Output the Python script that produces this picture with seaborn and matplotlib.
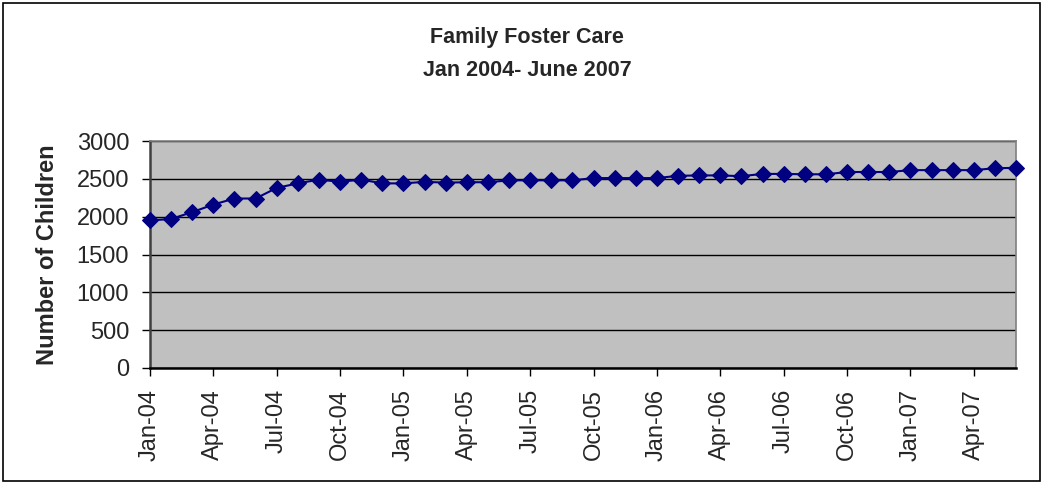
import matplotlib
matplotlib.use("Agg")
import matplotlib.pyplot as plt
import seaborn as sns
import pandas as pd
from matplotlib.patches import Rectangle

# ---- data ----
month_index = list(range(42))  # Jan 2004 .. Jun 2007
children = [1950, 1970, 2060, 2160, 2240, 2240, 2380, 2440, 2490, 2460,
            2490, 2440, 2440, 2460, 2450, 2455, 2455, 2480, 2480, 2480,
            2480, 2510, 2510, 2510, 2510, 2540, 2545, 2545, 2535, 2565,
            2565, 2560, 2560, 2590, 2590, 2590, 2615, 2615, 2615, 2615,
            2640, 2645]
tick_positions = list(range(0, 42, 3))
tick_labels = ["Jan-04", "Apr-04", "Jul-04", "Oct-04", "Jan-05", "Apr-05",
               "Jul-05", "Oct-05", "Jan-06", "Apr-06", "Jul-06", "Oct-06",
               "Jan-07", "Apr-07"]
y_ticks = [0, 500, 1000, 1500, 2000, 2500, 3000]

sns.set_theme(style="white")
plt.rcParams['font.family'] = ['Liberation Sans', 'DejaVu Sans']

W, H = 1043, 484
fig = plt.figure(figsize=(W / 100, H / 100), dpi=100)
fig.patch.set_facecolor("white")
ax = fig.add_axes([150 / W, 1 - 368 / H, (1016 - 150) / W, (368 - 141) / H])
ax.set_facecolor("#C0C0C0")

df = pd.DataFrame({"month": month_index, "children": children})
sns.lineplot(data=df, x="month", y="children", ax=ax, color="#000080",
             marker="D", markersize=8.5, linewidth=1.5,
             markeredgecolor="#000080", clip_on=False, zorder=5)

ax.set_xlim(0, 41)
ax.set_ylim(0, 3000)
ax.set_yticks(y_ticks)
ax.set_yticklabels([str(v) for v in y_ticks], fontsize=17)
ax.set_xticks(tick_positions)
ax.set_xticklabels(tick_labels, rotation=90, fontsize=17)
ax.tick_params(axis="both", direction="out", length=6, width=1,
               color="black", left=True, bottom=True)
ax.tick_params(axis="y", pad=9)
ax.tick_params(axis="x", pad=9)
ax.yaxis.grid(True, color="black", linewidth=1)
ax.xaxis.grid(False)
ax.set_axisbelow(True)

for side in ["top", "right"]:
    ax.spines[side].set_color("#808080")
    ax.spines[side].set_linewidth(1.2)
ax.spines["left"].set_color("#404040")
ax.spines["left"].set_linewidth(1.8)
ax.spines["bottom"].set_color("black")
ax.spines["bottom"].set_linewidth(1.8)

ax.set_xlabel("")
ax.set_ylabel("Number of Children", fontsize=17, fontweight="bold")
ax.yaxis.set_label_coords((59 - 150) / (1016 - 150), 0.5)

fig.text(527 / W, 1 - 38 / H, "Family Foster Care", ha="center", va="center",
         fontsize=15.5, fontweight="bold")
fig.text(527 / W, 1 - 70 / H, "Jan 2004- June 2007", ha="center", va="center",
         fontsize=15.5, fontweight="bold")

fig.patches.append(Rectangle((3 / W, 3 / H), (W - 6) / W, (H - 6) / H,
                             transform=fig.transFigure, fill=False,
                             edgecolor="black", linewidth=1.2))

fig.savefig("out.png", dpi=100)
